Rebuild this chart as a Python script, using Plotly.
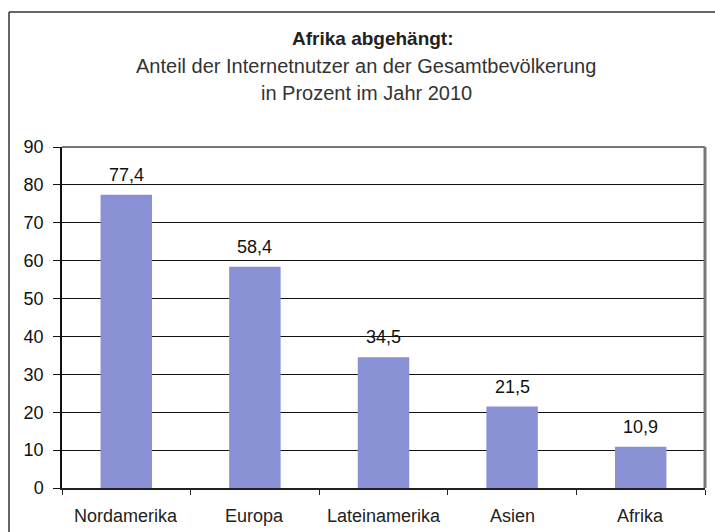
import plotly.graph_objects as go

categories = ["Nordamerika", "Europa", "Lateinamerika", "Asien", "Afrika"]
values = [77.4, 58.4, 34.5, 21.5, 10.9]
y_ticks = [0, 10, 20, 30, 40, 50, 60, 70, 80, 90]

title_bold = "Afrika abgehängt:"
title_line2 = "Anteil der Internetnutzer an der Gesamtbevölkerung"
title_line3 = "in Prozent im Jahr 2010"

W, H = 715, 532
L, R, T, B = 62, 10, 147, 44
pw, ph = W - L - R, H - T - B

def px(x):
    return (x - L) / pw

def py(y):
    return (H - B - y) / ph

font = "Liberation Sans, Arial, sans-serif"

fig = go.Figure(go.Bar(
    x=categories, y=values,
    marker=dict(color="#8991D4", line=dict(width=0)),
    width=0.4,
    hoverinfo="skip",
))

fig.update_layout(
    width=W, height=H,
    margin=dict(l=L, r=R, t=T, b=B),
    paper_bgcolor="white", plot_bgcolor="white",
    separators=",.",
    showlegend=False,
    xaxis=dict(
        showgrid=False, showline=True, linecolor="#222222", linewidth=2,
        ticks="outside", ticklen=5, tickcolor="#222222",
        tickmode="array", tickvals=[-0.5, 0.5, 1.5, 2.5, 3.5, 4.5], ticktext=[""] * 6,
        range=[-0.5, 4.5], fixedrange=True,
    ),
    yaxis=dict(
        range=[0, 90], tickvals=y_ticks, showgrid=True, gridcolor="#111111", gridwidth=1.2,
        showline=True, linecolor="#111111", linewidth=1.5,
        ticks="outside", ticklen=7, tickcolor="#111111",
        ticklabelstandoff=6,
        tickfont=dict(family=font, size=18, color="#111111"),
        zeroline=False, fixedrange=True,
    ),
    shapes=[
        dict(type="line", xref="paper", yref="paper", x0=0, x1=1, y0=1, y1=1,
             line=dict(color="#777777", width=2)),
        dict(type="line", xref="paper", yref="paper", x0=1, x1=1, y0=0, y1=1,
             line=dict(color="#777777", width=3)),
        dict(type="line", xref="paper", yref="paper", x0=px(9), x1=px(9), y0=py(12), y1=py(540),
             line=dict(color="#333333", width=1.5)),
        dict(type="line", xref="paper", yref="paper", x0=px(9), x1=px(720), y0=py(12), y1=py(12),
             line=dict(color="#333333", width=1.5)),
    ],
)

annotations = []
for i, c in enumerate(categories):
    annotations.append(dict(x=c, y=py(516), xref="x", yref="paper", text=c, showarrow=False,
                            font=dict(family=font, size=18, color="#222222"),
                            xanchor="center", yanchor="middle"))
    annotations.append(dict(x=c, y=values[i], xref="x", yref="y",
                            text=f"{values[i]:.1f}".replace(".", ","), showarrow=False,
                            font=dict(family=font, size=18, color="#111111"),
                            xanchor="center", yanchor="bottom", yshift=8))
annotations += [
    dict(x=px(373), y=py(38), xref="paper", yref="paper", text="<b>" + title_bold + "</b>",
         showarrow=False, font=dict(family=font, size=19, color="#222222"), xanchor="center", yanchor="middle"),
    dict(x=px(366), y=py(66), xref="paper", yref="paper", text=title_line2,
         showarrow=False, font=dict(family=font, size=20, color="#333333"), xanchor="center", yanchor="middle"),
    dict(x=px(366), y=py(93), xref="paper", yref="paper", text=title_line3,
         showarrow=False, font=dict(family=font, size=20, color="#333333"), xanchor="center", yanchor="middle"),
]
fig.update_layout(annotations=annotations)

fig.write_html("out.html", config={"displayModeBar": False},
               post_script="document.body.style.margin='0';")
